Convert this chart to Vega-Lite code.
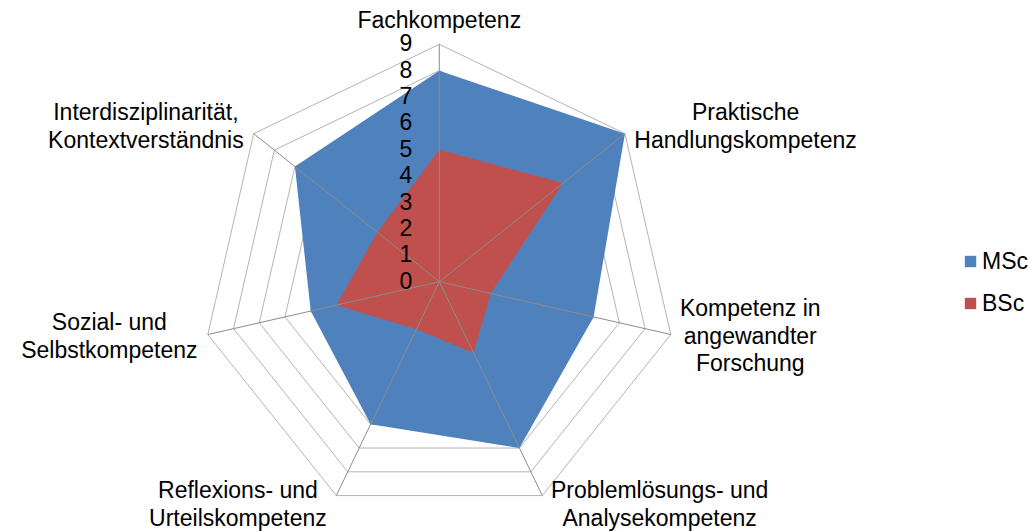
{
  "$schema": "https://vega.github.io/schema/vega-lite/v6.json",
  "width": 1030,
  "height": 531,
  "autosize": {"type": "none"},
  "padding": 0,
  "background": "white",
  "config": {"view": {"stroke": null}, "font": "Liberation Sans"},
  "datasets": {
    "axes": [
      {"i": 0, "competence": "Fachkompetenz", "label": "Fachkompetenz"},
      {"i": 1, "competence": "Praktische Handlungskompetenz", "label": "Praktische\nHandlungskompetenz"},
      {"i": 2, "competence": "Kompetenz in angewandter Forschung", "label": "Kompetenz in\nangewandter\nForschung"},
      {"i": 3, "competence": "Problemlösungs- und Analysekompetenz", "label": "Problemlösungs- und\nAnalysekompetenz"},
      {"i": 4, "competence": "Reflexions- und Urteilskompetenz", "label": "Reflexions- und\nUrteilskompetenz"},
      {"i": 5, "competence": "Sozial- und Selbstkompetenz", "label": "Sozial- und\nSelbstkompetenz"},
      {"i": 6, "competence": "Interdisziplinarität, Kontextverständnis", "label": "Interdisziplinarität,\nKontextverständnis"}
    ],
    "scores": [
      {"competence": "Fachkompetenz", "degree": "MSc", "score": 8},
      {"competence": "Praktische Handlungskompetenz", "degree": "MSc", "score": 9},
      {"competence": "Kompetenz in angewandter Forschung", "degree": "MSc", "score": 6},
      {"competence": "Problemlösungs- und Analysekompetenz", "degree": "MSc", "score": 7},
      {"competence": "Reflexions- und Urteilskompetenz", "degree": "MSc", "score": 6},
      {"competence": "Sozial- und Selbstkompetenz", "degree": "MSc", "score": 5},
      {"competence": "Interdisziplinarität, Kontextverständnis", "degree": "MSc", "score": 7},
      {"competence": "Fachkompetenz", "degree": "BSc", "score": 5},
      {"competence": "Praktische Handlungskompetenz", "degree": "BSc", "score": 6},
      {"competence": "Kompetenz in angewandter Forschung", "degree": "BSc", "score": 2},
      {"competence": "Problemlösungs- und Analysekompetenz", "degree": "BSc", "score": 3},
      {"competence": "Reflexions- und Urteilskompetenz", "degree": "BSc", "score": 2},
      {"competence": "Sozial- und Selbstkompetenz", "degree": "BSc", "score": 4},
      {"competence": "Interdisziplinarität, Kontextverständnis", "degree": "BSc", "score": 3}
    ],
    "ticks": [
      {"value": 0}, {"value": 1}, {"value": 2}, {"value": 3}, {"value": 4},
      {"value": 5}, {"value": 6}, {"value": 7}, {"value": 8}, {"value": 9}
    ]
  },
  "layer": [
    {
      "data": {"name": "ticks"},
      "transform": [
        {"filter": "datum.value > 0"},
        {"calculate": "[0,1,2,3,4,5,6]", "as": "spoke"},
        {"flatten": ["spoke"]},
        {"calculate": "datum.spoke * 2 * PI / 7", "as": "a"},
        {"calculate": "datum.value * sin(datum.a)", "as": "gx"},
        {"calculate": "datum.value * cos(datum.a)", "as": "gy"}
      ],
      "mark": {"type": "line", "interpolate": "linear-closed", "stroke": "#B4B4B4", "strokeWidth": 1},
      "encoding": {
        "x": {"field": "gx", "type": "quantitative", "axis": null, "scale": {"domain": [-16.653, 22.392], "nice": false, "zero": false}},
        "y": {"field": "gy", "type": "quantitative", "axis": null, "scale": {"domain": [-9.451, 10.679], "nice": false, "zero": false}},
        "detail": {"field": "value", "type": "nominal"},
        "order": {"field": "spoke", "type": "quantitative"}
      }
    },
    {
      "data": {"name": "scores"},
      "transform": [
        {"filter": "datum.degree === 'MSc'"},
        {"lookup": "competence", "from": {"data": {"name": "axes"}, "key": "competence", "fields": ["i"]}},
        {"calculate": "datum.i * 2 * PI / 7", "as": "a"},
        {"calculate": "datum.score * sin(datum.a)", "as": "px"},
        {"calculate": "datum.score * cos(datum.a)", "as": "py"}
      ],
      "mark": {"type": "line", "interpolate": "linear-closed", "strokeWidth": 0, "strokeOpacity": 0},
      "encoding": {
        "x": {"field": "px", "type": "quantitative", "axis": null, "scale": {"domain": [-16.653, 22.392], "nice": false, "zero": false}},
        "y": {"field": "py", "type": "quantitative", "axis": null, "scale": {"domain": [-9.451, 10.679], "nice": false, "zero": false}},
        "order": {"field": "i", "type": "quantitative"},
        "fill": {
          "field": "degree", "type": "nominal",
          "scale": {"domain": ["MSc", "BSc"], "range": ["#4F81BD", "#C0504D"]},
          "legend": {
            "orient": "none", "legendX": 959, "legendY": 250, "title": null,
            "symbolType": "square", "symbolSize": 130, "symbolStrokeWidth": 0,
            "labelFontSize": 23, "labelFont": "Liberation Sans", "labelColor": "#000000",
            "labelOffset": 0, "rowPadding": 18, "padding": 0
          }
        }
      }
    },
    {
      "data": {"name": "scores"},
      "transform": [
        {"filter": "datum.degree === 'BSc'"},
        {"lookup": "competence", "from": {"data": {"name": "axes"}, "key": "competence", "fields": ["i"]}},
        {"calculate": "datum.i * 2 * PI / 7", "as": "a"},
        {"calculate": "datum.score * sin(datum.a)", "as": "px"},
        {"calculate": "datum.score * cos(datum.a)", "as": "py"}
      ],
      "mark": {"type": "line", "interpolate": "linear-closed", "strokeWidth": 0, "strokeOpacity": 0},
      "encoding": {
        "x": {"field": "px", "type": "quantitative", "axis": null, "scale": {"domain": [-16.653, 22.392], "nice": false, "zero": false}},
        "y": {"field": "py", "type": "quantitative", "axis": null, "scale": {"domain": [-9.451, 10.679], "nice": false, "zero": false}},
        "order": {"field": "i", "type": "quantitative"},
        "fill": {"field": "degree", "type": "nominal", "scale": {"domain": ["MSc", "BSc"], "range": ["#4F81BD", "#C0504D"]}}
      }
    },
    {
      "data": {"name": "axes"},
      "transform": [
        {"calculate": "datum.i * 2 * PI / 7", "as": "a"},
        {"calculate": "0", "as": "o"},
        {"calculate": "9 * sin(datum.a)", "as": "ex"},
        {"calculate": "9 * cos(datum.a)", "as": "ey"}
      ],
      "mark": {"type": "rule", "stroke": "#8C8C8C", "strokeWidth": 1},
      "encoding": {
        "x": {"field": "o", "type": "quantitative", "axis": null, "scale": {"domain": [-16.653, 22.392], "nice": false, "zero": false}},
        "y": {"field": "o", "type": "quantitative", "axis": null, "scale": {"domain": [-9.451, 10.679], "nice": false, "zero": false}},
        "x2": {"field": "ex"},
        "y2": {"field": "ey"}
      }
    },
    {
      "data": {"name": "ticks"},
      "transform": [{"calculate": "0", "as": "o"}],
      "mark": {"type": "text", "align": "right", "baseline": "middle", "dx": -27, "fontSize": 23, "font": "Liberation Sans", "color": "#000000"},
      "encoding": {
        "x": {"field": "o", "type": "quantitative", "axis": null, "scale": {"domain": [-16.653, 22.392], "nice": false, "zero": false}},
        "y": {"field": "value", "type": "quantitative", "axis": null, "scale": {"domain": [-9.451, 10.679], "nice": false, "zero": false}},
        "text": {"field": "value", "type": "quantitative"}
      }
    },
    {
      "data": {"name": "axes"},
      "transform": [
        {"calculate": "datum.i * 2 * PI / 7", "as": "a"},
        {"calculate": "sin(datum.a)", "as": "s"},
        {"calculate": "cos(datum.a)", "as": "c"},
        {"calculate": "datum.s > 0.1 ? 1 : (datum.s < -0.1 ? -1 : 0)", "as": "sg"},
        {"calculate": "split(datum.label, '\\n')", "as": "L"},
        {"calculate": "0.55*length(datum.L[0]) - 0.28*length(replace(datum.L[0], regexp('[^iljtfrI ,.-]','g'), '')) + 0.28*length(replace(datum.L[0], regexp('[^mMw]','g'), ''))", "as": "w0"},
        {"calculate": "length(datum.L) > 1 ? 0.55*length(datum.L[1]) - 0.28*length(replace(datum.L[1], regexp('[^iljtfrI ,.-]','g'), '')) + 0.28*length(replace(datum.L[1], regexp('[^mMw]','g'), '')) : 0", "as": "w1"},
        {"calculate": "length(datum.L) > 2 ? 0.55*length(datum.L[2]) - 0.28*length(replace(datum.L[2], regexp('[^iljtfrI ,.-]','g'), '')) + 0.28*length(replace(datum.L[2], regexp('[^mMw]','g'), '')) : 0", "as": "w2"},
        {"calculate": "max(datum.w0, datum.w1, datum.w2)", "as": "w"},
        {"calculate": "9 * datum.s + datum.sg * (datum.w * 0.436 + 0.38)", "as": "lx"},
        {"calculate": "9 * datum.c + (datum.sg == 0 ? 0.9 : 0.4 * datum.c) + (length(datum.L) - 1) * 0.521", "as": "ly"}
      ],
      "mark": {"type": "text", "align": "center", "baseline": "middle", "lineBreak": "\n", "lineHeight": 27.5, "fontSize": 23, "font": "Liberation Sans", "color": "#000000"},
      "encoding": {
        "x": {"field": "lx", "type": "quantitative", "axis": null, "scale": {"domain": [-16.653, 22.392], "nice": false, "zero": false}},
        "y": {"field": "ly", "type": "quantitative", "axis": null, "scale": {"domain": [-9.451, 10.679], "nice": false, "zero": false}},
        "text": {"field": "label", "type": "nominal"}
      }
    }
  ]
}
